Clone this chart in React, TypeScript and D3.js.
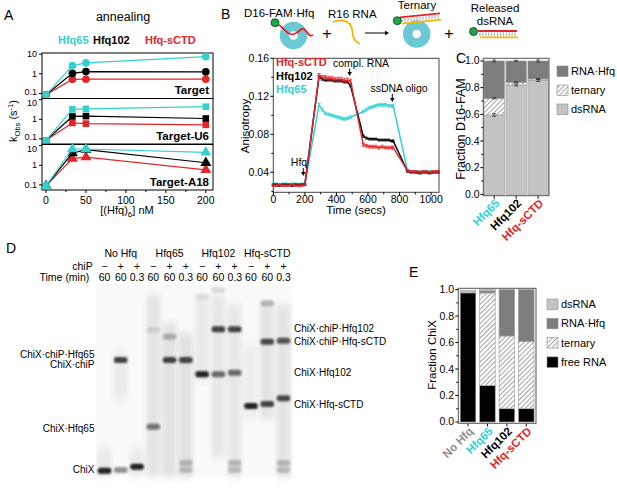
import React from "react";
import * as d3 from "d3";

const FONT = "'Liberation Sans', Arial, Helvetica, sans-serif";
const CYAN = "#35d0d0";
const RED = "#e2252b";
const DARKG = "#7d7d7d";
const LIGHTG = "#c4c4c4";

// ---------- Panel A data ----------
const aConcNM = [0, 33, 50, 200];
const aSeriesNames = ["Hfq65", "Hfq102", "Hfq-sCTD"];
const aPanelNames = ["Target", "Target-U6", "Target-A18"];
const aTargetHfq65 = [0.085, 2.6, 3.6, 7.5];
const aTargetHfq102 = [0.085, 1.05, 1.3, 1.25];
const aTargetSCTD = [0.085, 0.52, 0.53, 0.53];
const aU6Hfq65 = [0.085, 3.2, 3.4, 4.4];
const aU6Hfq102 = [0.085, 1.4, 1.45, 1.1];
const aU6SCTD = [0.085, 0.65, 0.6, 0.52];
const aA18Hfq65 = [0.09, 6.8, 6.8, 4.6];
const aA18Hfq102 = [0.09, 4.2, 6.3, 1.35];
const aA18SCTD = [0.09, 2.2, 2.6, 0.58];
const aYTicks = [0.1, 1, 10];
const aXTicks = [0, 50, 100, 150, 200];

// ---------- Panel B data ----------
const bTimeSecs = [
  0, 20, 40, 60, 80, 100, 120, 140, 160, 180, 200,
  290, 310, 330, 350, 370, 390, 410, 430, 450, 470, 490,
  570, 590, 610, 630, 650, 670, 690, 710, 730, 750, 760,
  850, 870, 890, 910, 930, 950, 970, 990, 1010, 1030, 1045,
];
const bSCTD = [
  0.026, 0.026, 0.027, 0.026, 0.026, 0.026, 0.027, 0.026, 0.026, 0.026, 0.027,
  0.142, 0.140, 0.140, 0.139, 0.139, 0.138, 0.138, 0.138, 0.137, 0.137, 0.136,
  0.069, 0.068, 0.067, 0.067, 0.067, 0.066, 0.067, 0.066, 0.066, 0.066, 0.066,
  0.042, 0.041, 0.041, 0.041, 0.040, 0.041, 0.041, 0.040, 0.041, 0.041, 0.041,
];
const bHfq102 = [
  0.027, 0.027, 0.026, 0.027, 0.027, 0.027, 0.026, 0.027, 0.027, 0.027, 0.027,
  0.141, 0.138, 0.137, 0.137, 0.137, 0.136, 0.136, 0.136, 0.135, 0.135, 0.131,
  0.078, 0.076, 0.075, 0.075, 0.075, 0.074, 0.074, 0.074, 0.074, 0.073, 0.073,
  0.041, 0.040, 0.040, 0.040, 0.039, 0.040, 0.040, 0.039, 0.040, 0.040, 0.040,
];
const bHfq65 = [
  0.028, 0.028, 0.027, 0.028, 0.028, 0.027, 0.028, 0.028, 0.027, 0.028, 0.028,
  0.111, 0.106, 0.102, 0.101, 0.100, 0.099, 0.098, 0.097, 0.096, 0.097, 0.098,
  0.104, 0.106, 0.108, 0.109, 0.110, 0.111, 0.111, 0.111, 0.110, 0.110, 0.110,
  0.042, 0.041, 0.041, 0.040, 0.041, 0.041, 0.040, 0.041, 0.040, 0.041, 0.041,
];
const bSCTDErr = [
  0.001, 0.001, 0.001, 0.001, 0.001, 0.001, 0.001, 0.001, 0.001, 0.001, 0.001,
  0.002, 0.002, 0.002, 0.002, 0.002, 0.002, 0.002, 0.002, 0.002, 0.002, 0.002,
  0.0015, 0.0015, 0.0015, 0.0015, 0.0015, 0.0015, 0.0015, 0.0015, 0.0015, 0.0015, 0.0015,
  0.001, 0.001, 0.001, 0.001, 0.001, 0.001, 0.001, 0.001, 0.001, 0.001, 0.001,
];
const bHfq102Err = [
  0.0008, 0.0008, 0.0008, 0.0008, 0.0008, 0.0008, 0.0008, 0.0008, 0.0008, 0.0008, 0.0008,
  0.001, 0.001, 0.001, 0.001, 0.001, 0.001, 0.001, 0.001, 0.001, 0.001, 0.001,
  0.001, 0.001, 0.001, 0.001, 0.001, 0.001, 0.001, 0.001, 0.001, 0.001, 0.001,
  0.0008, 0.0008, 0.0008, 0.0008, 0.0008, 0.0008, 0.0008, 0.0008, 0.0008, 0.0008, 0.0008,
];
const bHfq65Err = [
  0.001, 0.001, 0.001, 0.001, 0.001, 0.001, 0.001, 0.001, 0.001, 0.001, 0.001,
  0.0015, 0.0015, 0.0015, 0.0015, 0.0015, 0.0015, 0.0015, 0.0015, 0.0015, 0.0015, 0.0015,
  0.0015, 0.0015, 0.0015, 0.0015, 0.0015, 0.0015, 0.0015, 0.0015, 0.0015, 0.0015, 0.0015,
  0.001, 0.001, 0.001, 0.001, 0.001, 0.001, 0.001, 0.001, 0.001, 0.001, 0.001,
];
const bXTicks = [0, 200, 400, 600, 800, 1000];
const bYTicks = [0.04, 0.08, 0.12, 0.16];
const bEvents = ["Hfq", "compl. RNA", "ssDNA oligo"];
const bEventTimes = [190, 484, 754];

// ---------- Panel C data ----------
const cCategories = ["Hfq65", "Hfq102", "Hfq-sCTD"];
const cDsRNA = [0.595, 0.82, 0.855];
const cTernary = [0.125, 0.02, 0.01];
const cRnaHfq = [0.28, 0.16, 0.135];
const cErrDs = [0.01, 0.007, 0.009];
const cErrTer = [0.004, 0.004, 0.004];
const cErrTop = [0.007, 0.005, 0.008];
const cYTicks = [0, 0.2, 0.4, 0.6, 0.8, 1.0];
const cLegend = ["RNA·Hfq", "ternary", "dsRNA"];

// ---------- Panel D data (gel) ----------
const dGroups = ["No Hfq", "Hfq65", "Hfq102", "Hfq-sCTD"];
const dChiP = ["−", "+", "+", "−", "+", "+", "−", "+", "+", "−", "+", "+"];
const dTimes = ["60", "60", "0.3", "60", "60", "0.3", "60", "60", "0.3", "60", "60", "0.3"];
const dBandLane = [0, 1, 1, 2, 3, 3, 4, 4, 5, 5, 5, 6, 6, 7, 7, 7, 8, 8, 8, 8, 9, 10, 10, 10, 11, 11, 11, 11];
const dBandMigration = [0.967, 0.391, 0.964, 0.946, 0.738, 0.234, 0.391, 0.269, 0.391, 0.927, 0.964, 0.465, 0.061, 0.231, 0.465, 0.026, 0.231, 0.457, 0.927, 0.964, 0.630, 0.095, 0.295, 0.620, 0.290, 0.590, 0.927, 0.964];
const dBandIntensity = [0.95, 0.8, 0.45, 0.95, 0.55, 0.1, 0.8, 0.25, 0.8, 0.22, 0.2, 0.95, 0.08, 0.8, 0.6, 0.12, 0.8, 0.6, 0.22, 0.2, 0.95, 0.25, 0.75, 0.8, 0.7, 0.75, 0.22, 0.2];
const dSmearTop = [0.85, 0.35, 0.85, 0.05, 0.2, 0.25, 0.05, 0.05, 0.1, 0.3, 0.1, 0.1];
const dSmearBottom = [1.0, 0.6, 1.0, 1.0, 1.0, 1.0, 0.5, 0.9, 1.0, 0.7, 0.7, 1.0];
const dSmearOpacity = [0.08, 0.07, 0.07, 0.1, 0.12, 0.12, 0.08, 0.09, 0.09, 0.06, 0.11, 0.1];
const dLeftLabels = ["ChiX·chiP·Hfq65", "ChiX·chiP", "ChiX·Hfq65", "ChiX"];
const dLeftLabelMig = [0.362, 0.414, 0.747, 0.964];
const dRightLabels = ["ChiX·chiP·Hfq102", "ChiX·chiP·Hfq-sCTD", "ChiX·Hfq102", "ChiX·Hfq-sCTD"];
const dRightLabelMig = [0.227, 0.296, 0.456, 0.622];

// ---------- Panel E data ----------
const eCategories = ["No Hfq", "Hfq65", "Hfq102", "Hfq-sCTD"];
const eFreeRNA = [0.975, 0.275, 0.1, 0.1];
const eTernary = [0, 0.7, 0.55, 0.51];
const eRnaHfq = [0, 0.015, 0.35, 0.39];
const eDsRNA = [0.02, 0.01, 0, 0];
const eYTicks = [0, 0.2, 0.4, 0.6, 0.8, 1.0];
const eLegend = ["dsRNA", "RNA·Hfq", "ternary", "free RNA"];

const seriesColor: Record<string, string> = {
  Hfq65: CYAN,
  Hfq102: "#000",
  "Hfq-sCTD": RED,
  "No Hfq": "#8f8f8f",
};

// ================= Panel A =================
function PanelA() {
  const x = d3.scaleLinear().domain([-5, 209]).range([42, 213]);
  const tops = [53, 98.5, 144.5];
  const h = 45.5;
  const shapes = [d3.symbolCircle, d3.symbolSquare, d3.symbolTriangle];
  const sizes = [46, 44, 52];
  const data = [
    [aTargetHfq65, aTargetHfq102, aTargetSCTD],
    [aU6Hfq65, aU6Hfq102, aU6SCTD],
    [aA18Hfq65, aA18Hfq102, aA18SCTD],
  ];
  const drawOrder = [2, 1, 0];
  const bottom = tops[2] + h;
  // small vertical nudges so adjacent panels' tick labels do not collide
  const labelDy = (t: number, pi: number) => (t === 10 && pi > 0 ? 6 : t === 0.1 && pi < 2 ? 1.2 : 3.2);
  return (
    <g>
      <text x={4} y={20} fontSize={14}>A</text>
      <text x={123} y={21} fontSize={12.5} textAnchor="middle">annealing</text>
      <text x={58} y={44} fontSize={11} fontWeight="bold" fill={CYAN}>{aSeriesNames[0]}</text>
      <text x={93} y={44} fontSize={11} fontWeight="bold" fill="#000">{aSeriesNames[1]}</text>
      <text x={145} y={44} fontSize={11} fontWeight="bold" fill={RED}>{aSeriesNames[2]}</text>
      {tops.map((top, pi) => {
        const y = d3.scaleLog().domain([0.055, 11.5]).range([top + h, top]);
        const sym = d3.symbol().type(shapes[pi]).size(sizes[pi]);
        const line = d3
          .line<number>()
          .x((_, i) => x(aConcNM[i]))
          .y((v) => y(v));
        return (
          <g key={pi}>
            <rect x={42} y={top} width={171} height={h} fill="none" stroke="#000" strokeWidth={1} />
            {aYTicks.map((t) => (
              <g key={t}>
                <line x1={39} x2={42} y1={y(t)} y2={y(t)} stroke="#000" />
                <text x={37} y={y(t) + labelDy(t, pi)} fontSize={9} textAnchor="end">{String(t)}</text>
              </g>
            ))}
            {drawOrder.map((si) => (
              <g key={si}>
                <path d={line(data[pi][si]) || ""} fill="none" stroke={seriesColor[aSeriesNames[si]]} strokeWidth={1.2} />
                {data[pi][si].map((v, i) => (
                  <path
                    key={i}
                    d={sym() || ""}
                    transform={`translate(${x(aConcNM[i])},${y(v)})`}
                    fill={seriesColor[aSeriesNames[si]]}
                  />
                ))}
              </g>
            ))}
            <text x={209} y={top + h - 4.5} fontSize={11.5} fontWeight="bold" textAnchor="end">{aPanelNames[pi]}</text>
          </g>
        );
      })}
      {aXTicks.map((t) => (
        <g key={t}>
          <line x1={x(t)} x2={x(t)} y1={bottom} y2={bottom + 3} stroke="#000" />
          <text x={x(t)} y={bottom + 13.5} fontSize={10.5} textAnchor="middle">{t}</text>
        </g>
      ))}
      {[25, 75, 125, 175].map((t) => (
        <line key={t} x1={x(t)} x2={x(t)} y1={bottom} y2={bottom + 2} stroke="#000" />
      ))}
      <text x={127} y={214} fontSize={11} textAnchor="middle">
        [(Hfq)<tspan fontSize={8} dy={3}>6</tspan><tspan dy={-3}>] nM</tspan>
      </text>
      <text transform="translate(17,121) rotate(-90)" fontSize={11} textAnchor="middle">
        k<tspan fontSize={7.5} dy={2.5}>Obs</tspan><tspan dy={-2.5}> (s</tspan><tspan fontSize={7.5} dy={-4}>-1</tspan><tspan dy={4}>)</tspan>
      </text>
    </g>
  );
}

// ================= Panel B =================
function Ring({ cx, cy }: { cx: number; cy: number }) {
  return <circle cx={cx} cy={cy} r={9} fill="none" stroke="#6cc9d3" strokeWidth={9.5} />;
}
function Duplex({ x1, x2, y1, slope }: { x1: number; x2: number; y1: number; slope: number }) {
  const n = 13;
  const ticks = d3.range(n).map((i) => x1 + 2 + ((x2 - x1 - 4) * i) / (n - 1));
  const yr = (xx: number) => y1 + (xx - x1) * slope;
  return (
    <g>
      {ticks.map((tx, i) => (
        <line key={i} x1={tx} x2={tx} y1={yr(tx) + 1.5} y2={yr(tx) + 5} stroke="#8a8a8a" strokeWidth={0.8} />
      ))}
      <line x1={x1} x2={x2} y1={yr(x1)} y2={yr(x2)} stroke={RED} strokeWidth={1.8} />
      <line x1={x1 + 2} x2={x2 + 1} y1={yr(x1) + 6.3} y2={yr(x2) + 6.3} stroke="#f2b705" strokeWidth={1.8} />
    </g>
  );
}
function Dot({ cx, cy }: { cx: number; cy: number }) {
  return <circle cx={cx} cy={cy} r={4} fill="#1fa64a" stroke="#0d3d1e" strokeWidth={0.8} />;
}
function Arrow({ x1, y1, x2, y2 }: { x1: number; y1: number; x2: number; y2: number }) {
  const ang = Math.atan2(y2 - y1, x2 - x1);
  const L = 4, W = 2.2;
  const bx = x2 - L * Math.cos(ang), by = y2 - L * Math.sin(ang);
  const px = -Math.sin(ang) * W, py = Math.cos(ang) * W;
  return (
    <g>
      <line x1={x1} y1={y1} x2={bx} y2={by} stroke="#000" strokeWidth={1} />
      <polygon points={`${x2},${y2} ${bx + px},${by + py} ${bx - px},${by - py}`} fill="#000" />
    </g>
  );
}

function PanelB() {
  const x = d3.scaleLinear().domain([0, 1050]).range([273.3, 439]);
  const y = d3.scaleLinear().domain([0.019, 0.16]).range([192.3, 58.3]);
  const series = [
    { name: "Hfq65", v: bHfq65, e: bHfq65Err },
    { name: "Hfq102", v: bHfq102, e: bHfq102Err },
    { name: "Hfq-sCTD", v: bSCTD, e: bSCTDErr },
  ];
  const line = d3
    .line<number>()
    .x((_, i) => x(bTimeSecs[i]))
    .y((v) => y(v));
  return (
    <g>
      <text x={221} y={19} fontSize={14}>B</text>
      {/* schematic */}
      <text x={244} y={17} fontSize={11.5}>D16-FAM·Hfq</text>
      <Ring cx={293.5} cy={35.5} />
      <path d="M278,24.5 C284,27 287,36 294,34 S301,26 305,30 S309,37 313,35" fill="none" stroke={RED} strokeWidth={1.8} />
      <Dot cx={275} cy={22.7} />
      <text x={327} y={39} fontSize={16} textAnchor="middle">+</text>
      <text x={328} y={18} fontSize={11.5}>R16 RNA</text>
      <path d="M333,22 C343,18 351,22 352,29 S353,41 360,44" fill="none" stroke="#f2b705" strokeWidth={1.8} />
      <Arrow x1={365} y1={33} x2={389} y2={33} />
      <text x={417} y={9} fontSize={11.5} textAnchor="middle">Ternary</text>
      <Ring cx={416.7} cy={34} />
      <Duplex x1={400} x2={440} y1={17.3} slope={-0.1} />
      <Dot cx={397.3} cy={20.7} />
      <text x={449} y={39} fontSize={16} textAnchor="middle">+</text>
      <text x={495} y={12} fontSize={11.5} textAnchor="middle">Released</text>
      <text x={495} y={25} fontSize={11.5} textAnchor="middle">dsRNA</text>
      <Duplex x1={478} x2={517} y1={31} slope={0} />
      <Dot cx={473.5} cy={31.5} />

      {/* plot */}
      <rect x={273.3} y={58.3} width={165.7} height={134} fill="none" stroke="#444" strokeWidth={1} />
      {bXTicks.map((t) => (
        <g key={t}>
          <line x1={x(t)} x2={x(t)} y1={192.3} y2={195.3} stroke="#000" />
          <text x={x(t)} y={203} fontSize={10.5} textAnchor="middle">{t}</text>
        </g>
      ))}
      {[100, 300, 500, 700, 900].map((t) => (
        <line key={t} x1={x(t)} x2={x(t)} y1={192.3} y2={194.3} stroke="#000" />
      ))}
      {bYTicks.map((t) => (
        <g key={t}>
          <line x1={270.3} x2={273.3} y1={y(t)} y2={y(t)} stroke="#000" />
          <text x={269} y={y(t) + 3.5} fontSize={10.5} textAnchor="end">{t.toFixed(2)}</text>
        </g>
      ))}
      {[0.02, 0.06, 0.1, 0.14].map((t) => (
        <line key={t} x1={271.3} x2={273.3} y1={y(t)} y2={y(t)} stroke="#000" />
      ))}
      <text x={356} y={214} fontSize={11.5} textAnchor="middle">Time (secs)</text>
      <text transform="translate(249,126) rotate(-90)" fontSize={11.5} textAnchor="middle">Anisotropy</text>
      {series.map((s) => (
        <g key={s.name}>
          {s.v.map((v, i) => {
            const xx = x(bTimeSecs[i]);
            return (
              <g key={i} stroke={seriesColor[s.name]} strokeWidth={0.8}>
                <line x1={xx} x2={xx} y1={y(v - s.e[i])} y2={y(v + s.e[i])} />
                <line x1={xx - 1.6} x2={xx + 1.6} y1={y(v - s.e[i])} y2={y(v - s.e[i])} />
                <line x1={xx - 1.6} x2={xx + 1.6} y1={y(v + s.e[i])} y2={y(v + s.e[i])} />
              </g>
            );
          })}
          <path d={line(s.v) || ""} fill="none" stroke={seriesColor[s.name]} strokeWidth={1.5} />
        </g>
      ))}
      <text x={276} y={66} fontSize={11} fontWeight="bold" fill={RED}>Hfq-sCTD</text>
      <text x={276} y={79.5} fontSize={11} fontWeight="bold" fill="#000">Hfq102</text>
      <text x={276} y={93} fontSize={11} fontWeight="bold" fill={CYAN}>Hfq65</text>
      {/* event annotations */}
      <text x={299} y={165.5} fontSize={10.5} textAnchor="middle">{bEvents[0]}</text>
      <Arrow x1={x(bEventTimes[0])} y1={168} x2={x(bEventTimes[0])} y2={176} />
      <text x={361} y={66.5} fontSize={10.5} textAnchor="middle">{bEvents[1]}</text>
      <Arrow x1={x(bEventTimes[1])} y1={68.5} x2={x(bEventTimes[1])} y2={76} />
      <text x={399} y={92} fontSize={10.5} textAnchor="middle">{bEvents[2]}</text>
      <Arrow x1={x(bEventTimes[2])} y1={94} x2={x(bEventTimes[2])} y2={102} />
    </g>
  );
}

// ================= Panel C =================
function PanelC() {
  const x = d3.scaleBand<string>().domain(cCategories).range([483.3, 549]).paddingInner(0.07).paddingOuter(0.03);
  const y = d3.scaleLinear().domain([-0.01, 1.02]).range([195.7, 58.3]);
  const fills = [LIGHTG, "url(#hatch)", DARKG];
  return (
    <g>
      <text x={456} y={63} fontSize={14}>C</text>
      {cCategories.map((c, i) => {
        const segs = [cDsRNA[i], cTernary[i], cRnaHfq[i]];
        let acc = 0;
        const x0 = x(c) || 0;
        const bw = x.bandwidth();
        const tops: number[] = [];
        return (
          <g key={c}>
            {segs.map((s, k) => {
              const y0 = acc;
              acc += s;
              tops.push(acc);
              return (
                <rect key={k} x={x0} width={bw} y={y(acc)} height={y(y0) - y(acc)} fill={fills[k]} stroke="#9a9a9a" strokeWidth={0.6} />
              );
            })}
            {[cErrDs[i], cErrTer[i], cErrTop[i]].map((e, k) => {
              const cx = x0 + bw / 2;
              return (
                <g key={k} stroke="#333" strokeWidth={0.8}>
                  <line x1={cx} x2={cx} y1={y(tops[k] - e)} y2={y(tops[k] + e)} />
                  <line x1={cx - 2} x2={cx + 2} y1={y(tops[k] - e)} y2={y(tops[k] - e)} />
                  <line x1={cx - 2} x2={cx + 2} y1={y(tops[k] + e)} y2={y(tops[k] + e)} />
                </g>
              );
            })}
            <line x1={x0 + bw / 2} x2={x0 + bw / 2} y1={195.7} y2={198.7} stroke="#000" />
            <text
              transform={`translate(${x0 + bw / 2 + 6},${204}) rotate(-45)`}
              fontSize={11.5}
              fontWeight="bold"
              textAnchor="end"
              fill={seriesColor[c]}
            >
              {c}
            </text>
          </g>
        );
      })}
      <rect x={483.3} y={58.3} width={65.7} height={137.4} fill="none" stroke="#555" strokeWidth={1} />
      {cYTicks.map((t) => (
        <g key={t}>
          <line x1={480.3} x2={483.3} y1={y(t)} y2={y(t)} stroke="#000" />
          <text x={479.5} y={y(t) + 3.5} fontSize={10.5} textAnchor="end">{t.toFixed(1)}</text>
        </g>
      ))}
      {[0.1, 0.3, 0.5, 0.7, 0.9].map((t) => (
        <line key={t} x1={481.3} x2={483.3} y1={y(t)} y2={y(t)} stroke="#000" />
      ))}
      <text transform="translate(465,129) rotate(-90)" fontSize={12.5} textAnchor="middle">Fraction D16-FAM</text>
      {cLegend.map((l, i) => (
        <g key={l}>
          <rect x={557} y={66 + i * 19} width={11} height={10.5} fill={[DARKG, "url(#hatch)", LIGHTG][i]} stroke="#8a8a8a" strokeWidth={0.6} />
          <text x={571} y={75 + i * 19} fontSize={11}>{l}</text>
        </g>
      ))}
    </g>
  );
}

// ================= Panel D (gel) =================
function PanelD() {
  const lanes = d3.range(12);
  const x = d3.scalePoint<number>().domain(lanes).range([104.5, 283.5]);
  const y = d3.scaleLinear().domain([0, 1]).range([285, 477]);
  const bandW = 13.5;
  return (
    <g>
      <text x={6} y={253} fontSize={14}>D</text>
      {dGroups.map((g, i) => (
        <text key={g} x={x(i * 3 + 1) || 0} y={256.5} fontSize={10.5} textAnchor="middle">{g}</text>
      ))}
      <text x={92.7} y={270} fontSize={10.5} textAnchor="end">chiP</text>
      <text x={89.3} y={280.5} fontSize={10.5} textAnchor="end">Time (min)</text>
      {lanes.map((l) => (
        <g key={l}>
          <text x={x(l) || 0} y={270} fontSize={10.5} textAnchor="middle">{dChiP[l]}</text>
          <text x={x(l) || 0} y={280.5} fontSize={10.5} textAnchor="middle">{dTimes[l]}</text>
        </g>
      ))}
      {/* gel pieces */}
      {dGroups.map((g, gi) => {
        const xl = (x(gi * 3) || 0) - 8.5;
        const xr = (x(gi * 3 + 2) || 0) + 8.5;
        return <rect key={g} x={xl} y={y(0)} width={xr - xl} height={y(1) - y(0)} fill="#fafafa" />;
      })}
      {lanes.map((l) => (
        <rect
          key={l}
          x={(x(l) || 0) - 7}
          width={14}
          y={y(dSmearTop[l])}
          height={y(dSmearBottom[l]) - y(dSmearTop[l])}
          fill="#333"
          opacity={dSmearOpacity[l]}
          filter="url(#smear)"
        />
      ))}
      {dBandLane.map((l, i) => (
        <g key={i} filter="url(#bandblur)">
          <rect
            x={(x(l) || 0) - bandW / 2}
            y={y(dBandMigration[i]) - 3}
            width={bandW}
            height={6}
            rx={2.5}
            fill="#151515"
            opacity={dBandIntensity[i]}
          />
        </g>
      ))}
      {dLeftLabels.map((t, i) => (
        <text key={t} x={94.5} y={y(dLeftLabelMig[i]) + 3.4} fontSize={10} textAnchor="end">{t}</text>
      ))}
      {dRightLabels.map((t, i) => (
        <text key={t} x={294} y={y(dRightLabelMig[i]) + 3.4} fontSize={10}>{t}</text>
      ))}
    </g>
  );
}

// ================= Panel E =================
function PanelE() {
  const x = d3.scaleBand<string>().domain(eCategories).range([458.3, 536]).paddingInner(0.2).paddingOuter(0.1);
  const y = d3.scaleLinear().domain([-0.01, 1.01]).range([423.3, 288.3]);
  const fills = ["#000", "url(#hatch)", DARKG, LIGHTG];
  return (
    <g>
      <text x={409} y={277} fontSize={14}>E</text>
      {eCategories.map((c, i) => {
        const segs = [eFreeRNA[i], eTernary[i], eRnaHfq[i], eDsRNA[i]];
        let acc = 0;
        const x0 = x(c) || 0;
        const bw = x.bandwidth();
        return (
          <g key={c}>
            {segs.map((s, k) => {
              const y0 = acc;
              acc += s;
              if (s <= 0) return null;
              return (
                <rect key={k} x={x0} width={bw} y={y(acc)} height={y(y0) - y(acc)} fill={fills[k]} stroke="#999" strokeWidth={0.6} />
              );
            })}
            <line x1={x0 + bw / 2} x2={x0 + bw / 2} y1={423.3} y2={426.3} stroke="#000" />
            <text
              transform={`translate(${x0 + bw / 2 + 6},${432}) rotate(-45)`}
              fontSize={11.5}
              fontWeight="bold"
              textAnchor="end"
              fill={seriesColor[c]}
            >
              {c}
            </text>
          </g>
        );
      })}
      <rect x={458.3} y={288.3} width={77.7} height={135} fill="none" stroke="#555" strokeWidth={1} />
      {eYTicks.map((t) => (
        <g key={t}>
          <line x1={455.3} x2={458.3} y1={y(t)} y2={y(t)} stroke="#000" />
          <text x={454} y={y(t) + 3.5} fontSize={10.5} textAnchor="end">{t.toFixed(1)}</text>
        </g>
      ))}
      {[0.1, 0.3, 0.5, 0.7, 0.9].map((t) => (
        <line key={t} x1={456.3} x2={458.3} y1={y(t)} y2={y(t)} stroke="#000" />
      ))}
      <text transform="translate(436,355) rotate(-90)" fontSize={11.5} textAnchor="middle">Fraction ChiX</text>
      {eLegend.map((l, i) => (
        <g key={l}>
          <rect x={547} y={299 + i * 19.3} width={11} height={10.5} fill={[LIGHTG, DARKG, "url(#hatch)", "#000"][i]} stroke="#8a8a8a" strokeWidth={0.6} />
          <text x={561} y={308 + i * 19.3} fontSize={11}>{l}</text>
        </g>
      ))}
    </g>
  );
}

export default function App() {
  return (
    <svg
      width={617}
      height={489}
      viewBox="0 0 617 489"
      style={{ position: "absolute", left: 0, top: 0, display: "block" }}
      fontFamily={FONT}
    >
      <defs>
        <pattern id="hatch" patternUnits="userSpaceOnUse" width={3.4} height={3.4} patternTransform="rotate(45)">
          <rect width={3.4} height={3.4} fill="#fff" />
          <line x1={0.5} y1={0} x2={0.5} y2={3.4} stroke="#a0a0a0" strokeWidth={1} />
        </pattern>
        <filter id="bandblur" x="-50%" y="-150%" width="200%" height="400%">
          <feGaussianBlur stdDeviation="1.1 1.3" />
        </filter>
        <filter id="smear" x="-50%" y="-20%" width="200%" height="140%">
          <feGaussianBlur stdDeviation="2 4" />
        </filter>
      </defs>
      <rect width={617} height={489} fill="#fff" />
      <PanelA />
      <PanelB />
      <PanelC />
      <PanelD />
      <PanelE />
    </svg>
  );
}
